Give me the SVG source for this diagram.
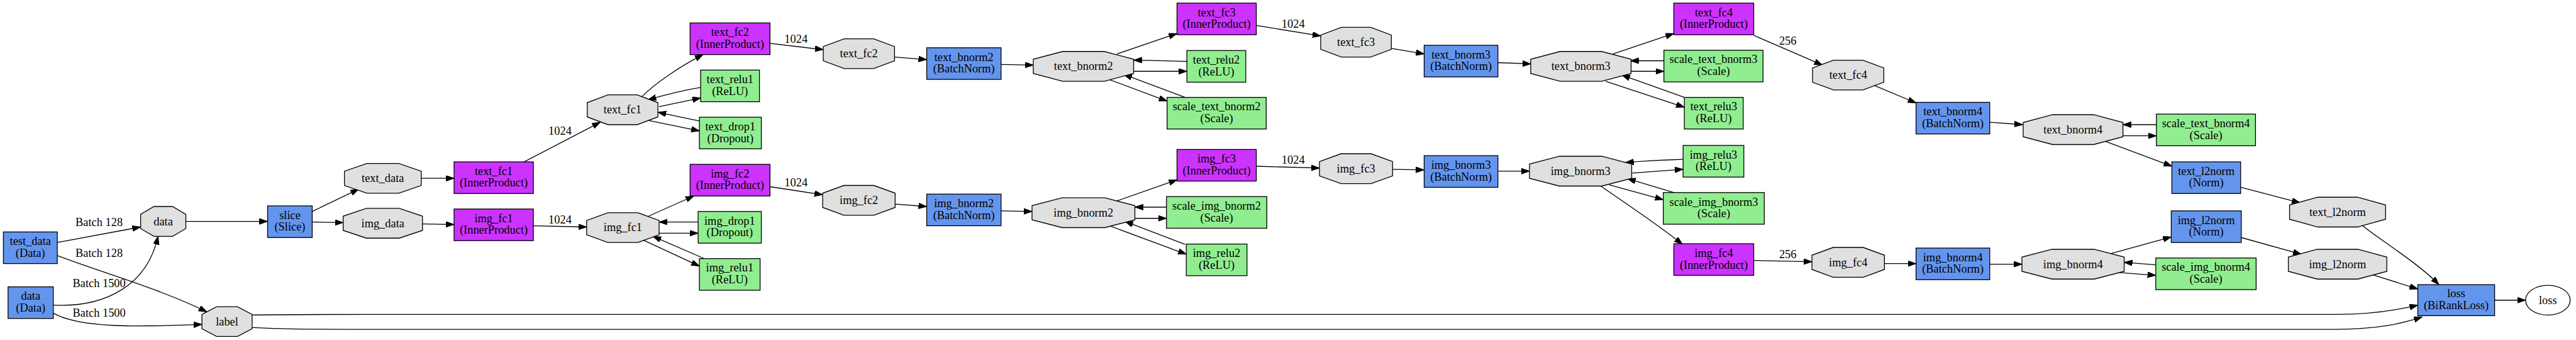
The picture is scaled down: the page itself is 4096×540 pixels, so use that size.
<svg xmlns="http://www.w3.org/2000/svg" width="4096" height="540" viewBox="0 0 4096 540">
<defs>
<style>
.n{stroke:#000;stroke-width:1.33}
.blue{fill:#6495ED}.pur{fill:#CC33FF}.grn{fill:#90EE90}.blob{fill:#E0E0E0}
text{font-family:"Liberation Serif","Times New Roman",serif;font-size:18.67px;text-anchor:middle;fill:#000}
.e{fill:none;stroke:#000;stroke-width:1.33;marker-end:url(#arr)}
</style>
<marker id="arr" markerUnits="userSpaceOnUse" markerWidth="14" markerHeight="10" refX="13.3" refY="4.67" orient="auto">
<path d="M0,0 L13.3,4.67 L0,9.33 z" fill="#000" stroke="#000" stroke-width="1"/>
</marker>
</defs>
<rect width="4096" height="540" fill="#fff"/>
<g transform="scale(0.985)">
<g id="edges">
<path class="e" d="M92.5,391 L227,366"/>
<path class="e" d="M92.5,412 C160,438 260,466 334,503"/>
<path class="e" d="M86,492 C170,496 238,460 255,381"/>
<path class="e" d="M86,505 C130,530 230,527 326,523"/>
<path class="e" d="M300,357 L432,357"/>
<path class="e" d="M504,341 L579,305"/>
<path class="e" d="M504,358 L554,359"/>
<path class="e" d="M680,287.5 L733,287.5"/>
<path class="e" d="M682,361 L733,362"/>
<path class="e" d="M846,261 L969,197"/>
<path class="e" d="M861,364 L947,366"/>
<path class="e" d="M1036,156 C1060,132 1100,106 1135,88"/>
<path class="e" d="M1131,141 C1100,146 1070,154 1046,161"/>
<path class="e" d="M1064,172 L1131,158"/>
<path class="e" d="M1129,195 L1062,181"/>
<path class="e" d="M1046,194 L1129,211"/>
<path class="e" d="M1046,349 L1120,316"/>
<path class="e" d="M1127,358 L1064,358"/>
<path class="e" d="M1064,376 L1127,376"/>
<path class="e" d="M1137,417 L1054,381"/>
<path class="e" d="M1038,387 L1129,429"/>
<path class="e" d="M1243,70 L1329,80"/>
<path class="e" d="M1243,301 L1328,314"/>
<path class="e" d="M1444,92 L1496,96"/>
<path class="e" d="M1445,329 L1496,333"/>
<path class="e" d="M1616,104 L1668,105"/>
<path class="e" d="M1616,340 L1666,341"/>
<path class="e" d="M1803,87 L1900,54"/>
<path class="e" d="M1916,99 C1880,98 1855,97 1830,97"/>
<path class="e" d="M1830,115 L1916,115"/>
<path class="e" d="M1913,157 L1814,120"/>
<path class="e" d="M1790,128 L1884,163"/>
<path class="e" d="M1803,324 L1900,290"/>
<path class="e" d="M1883,334 L1832,334"/>
<path class="e" d="M1832,352 L1883,352"/>
<path class="e" d="M1913,394 L1816,357"/>
<path class="e" d="M1791,364 L1915,410"/>
<path class="e" d="M2028,41 L2132,58"/>
<path class="e" d="M2028,268 L2130,271"/>
<path class="e" d="M2246,78 L2299,87"/>
<path class="e" d="M2248,273 L2299,274"/>
<path class="e" d="M2418,101 L2471,103"/>
<path class="e" d="M2418,276 L2469,276"/>
<path class="e" d="M2604,87 L2702,54"/>
<path class="e" d="M2686,98 L2632,98"/>
<path class="e" d="M2632,115 L2686,115"/>
<path class="e" d="M2719,157 L2618,121"/>
<path class="e" d="M2592,131 L2719,173"/>
<path class="e" d="M2717,257 C2680,258 2650,260 2624,262"/>
<path class="e" d="M2635,279 L2717,273"/>
<path class="e" d="M2704,311 L2627,288"/>
<path class="e" d="M2598,298 L2685,322"/>
<path class="e" d="M2584,300 C2620,325 2680,365 2716,394"/>
<path class="e" d="M2831,57 L2942,105"/>
<path class="e" d="M2831,420 L2925,422"/>
<path class="e" d="M3026,138 L3093,166"/>
<path class="e" d="M3042,425 L3093,425"/>
<path class="e" d="M3212,197 L3265,201"/>
<path class="e" d="M3212,426 L3264,426"/>
<path class="e" d="M3481,201 L3427,201"/>
<path class="e" d="M3427,219 L3481,219"/>
<path class="e" d="M3399,228 L3506,268"/>
<path class="e" d="M3617,302 L3713,327"/>
<path class="e" d="M3407,409 L3505,382"/>
<path class="e" d="M3480,427 L3429,423"/>
<path class="e" d="M3414,439 L3480,444"/>
<path class="e" d="M3618,383 L3715,410"/>
<path class="e" d="M3814,364 C3835,382 3905,425 3937,459"/>
<path class="e" d="M3830,443 L3903,466"/>
<path class="e" d="M407,508 C450,507 500,507 600,507 L3770,507 C3830,507 3870,500 3903,492"/>
<path class="e" d="M407,528 C440,530 480,531 560,531 L3770,531 C3840,531 3880,521 3910,511"/>
<path class="e" d="M4027,484 L4077,484"/>
<text x="160" y="364">Batch 128</text>
<text x="160" y="414">Batch 128</text>
<text x="160" y="463">Batch 1500</text>
<text x="160" y="511">Batch 1500</text>
<text x="904" y="217">1024</text>
<text x="904" y="360">1024</text>
<text x="1285" y="69">1024</text>
<text x="1285" y="300">1024</text>
<text x="2087.5" y="45">1024</text>
<text x="2087.5" y="264">1024</text>
<text x="2886" y="72">256</text>
<text x="2886" y="416">256</text>
</g>
<g id="test_data_layer"><rect class="n blue" x="5.5" y="374" width="87" height="51"/><text x="49" y="395">test_data</text><text x="49" y="414">(Data)</text></g>
<g id="data_layer"><rect class="n blue" x="13" y="462.5" width="73" height="51"/><text x="49.5" y="483.5">data</text><text x="49.5" y="502.5">(Data)</text></g>
<g id="slice"><rect class="n blue" x="432" y="332" width="72" height="51"/><text x="468" y="353">slice</text><text x="468" y="372">(Slice)</text></g>
<g id="text_fc1"><rect class="n pur" x="733" y="261" width="128" height="51"/><text x="797" y="282">text_fc1</text><text x="797" y="301">(InnerProduct)</text></g>
<g id="img_fc1"><rect class="n pur" x="733" y="337" width="128" height="51"/><text x="797" y="358">img_fc1</text><text x="797" y="377">(InnerProduct)</text></g>
<g id="text_fc2"><rect class="n pur" x="1114" y="37" width="129" height="51"/><text x="1178.5" y="58">text_fc2</text><text x="1178.5" y="77">(InnerProduct)</text></g>
<g id="text_relu1"><rect class="n grn" x="1131" y="113" width="95" height="51"/><text x="1178.5" y="134">text_relu1</text><text x="1178.5" y="153">(ReLU)</text></g>
<g id="text_drop1"><rect class="n grn" x="1129" y="189" width="100" height="51"/><text x="1179" y="210">text_drop1</text><text x="1179" y="229">(Dropout)</text></g>
<g id="img_fc2"><rect class="n pur" x="1114" y="265" width="129" height="51"/><text x="1178.5" y="286">img_fc2</text><text x="1178.5" y="305">(InnerProduct)</text></g>
<g id="img_drop1"><rect class="n grn" x="1127" y="341" width="102" height="51"/><text x="1178" y="362">img_drop1</text><text x="1178" y="381">(Dropout)</text></g>
<g id="img_relu1"><rect class="n grn" x="1129" y="417" width="98" height="51"/><text x="1178" y="438">img_relu1</text><text x="1178" y="457">(ReLU)</text></g>
<g id="text_bnorm2"><rect class="n blue" x="1496" y="77" width="120" height="51"/><text x="1556" y="98">text_bnorm2</text><text x="1556" y="117">(BatchNorm)</text></g>
<g id="img_bnorm2"><rect class="n blue" x="1496" y="313" width="120" height="51"/><text x="1556" y="334">img_bnorm2</text><text x="1556" y="353">(BatchNorm)</text></g>
<g id="text_fc3"><rect class="n pur" x="1900" y="5" width="128" height="51"/><text x="1964" y="26">text_fc3</text><text x="1964" y="45">(InnerProduct)</text></g>
<g id="text_relu2"><rect class="n grn" x="1916" y="81.5" width="95" height="51"/><text x="1963.5" y="102.5">text_relu2</text><text x="1963.5" y="121.5">(ReLU)</text></g>
<g id="scale_text_bnorm2"><rect class="n grn" x="1884" y="157" width="160" height="51"/><text x="1964" y="178">scale_text_bnorm2</text><text x="1964" y="197">(Scale)</text></g>
<g id="img_fc3"><rect class="n pur" x="1900" y="241" width="128" height="51"/><text x="1964" y="262">img_fc3</text><text x="1964" y="281">(InnerProduct)</text></g>
<g id="scale_img_bnorm2"><rect class="n grn" x="1883" y="317" width="162" height="51"/><text x="1964" y="338">scale_img_bnorm2</text><text x="1964" y="357">(Scale)</text></g>
<g id="img_relu2"><rect class="n grn" x="1915" y="393.5" width="98" height="51"/><text x="1964" y="414.5">img_relu2</text><text x="1964" y="433.5">(ReLU)</text></g>
<g id="text_bnorm3"><rect class="n blue" x="2299" y="73" width="119" height="51"/><text x="2358.5" y="94">text_bnorm3</text><text x="2358.5" y="113">(BatchNorm)</text></g>
<g id="img_bnorm3"><rect class="n blue" x="2299" y="251" width="119" height="51"/><text x="2358.5" y="272">img_bnorm3</text><text x="2358.5" y="291">(BatchNorm)</text></g>
<g id="text_fc4"><rect class="n pur" x="2702" y="5" width="129" height="51"/><text x="2766.5" y="26">text_fc4</text><text x="2766.5" y="45">(InnerProduct)</text></g>
<g id="scale_text_bnorm3"><rect class="n grn" x="2686" y="81" width="160" height="51"/><text x="2766" y="102">scale_text_bnorm3</text><text x="2766" y="121">(Scale)</text></g>
<g id="text_relu3"><rect class="n grn" x="2719" y="157" width="95" height="51"/><text x="2766.5" y="178">text_relu3</text><text x="2766.5" y="197">(ReLU)</text></g>
<g id="img_relu3"><rect class="n grn" x="2717" y="234.5" width="98" height="51"/><text x="2766" y="255.5">img_relu3</text><text x="2766" y="274.5">(ReLU)</text></g>
<g id="scale_img_bnorm3"><rect class="n grn" x="2685" y="310.5" width="163" height="51"/><text x="2766.5" y="331.5">scale_img_bnorm3</text><text x="2766.5" y="350.5">(Scale)</text></g>
<g id="img_fc4"><rect class="n pur" x="2702" y="393" width="129" height="51"/><text x="2766.5" y="414">img_fc4</text><text x="2766.5" y="433">(InnerProduct)</text></g>
<g id="text_bnorm4"><rect class="n blue" x="3093" y="165" width="119" height="51"/><text x="3152.5" y="186">text_bnorm4</text><text x="3152.5" y="205">(BatchNorm)</text></g>
<g id="img_bnorm4"><rect class="n blue" x="3093" y="400" width="119" height="51"/><text x="3152.5" y="421">img_bnorm4</text><text x="3152.5" y="440">(BatchNorm)</text></g>
<g id="scale_text_bnorm4"><rect class="n grn" x="3481" y="184" width="160" height="51"/><text x="3561" y="205">scale_text_bnorm4</text><text x="3561" y="224">(Scale)</text></g>
<g id="text_l2norm"><rect class="n blue" x="3506" y="261" width="111" height="51"/><text x="3561.5" y="282">text_l2norm</text><text x="3561.5" y="301">(Norm)</text></g>
<g id="img_l2norm"><rect class="n blue" x="3505" y="340" width="113" height="51"/><text x="3561.5" y="361">img_l2norm</text><text x="3561.5" y="380">(Norm)</text></g>
<g id="scale_img_bnorm4"><rect class="n grn" x="3480" y="416" width="162" height="51"/><text x="3561" y="437">scale_img_bnorm4</text><text x="3561" y="456">(Scale)</text></g>
<g id="loss_layer"><rect class="n blue" x="3903" y="459" width="124" height="50"/><text x="3965" y="479">loss</text><text x="3965" y="498">(BiRankLoss)</text></g>
<g id="blob_data"><polygon class="n blob" points="248.4,333 278.6,333 300,345.5 300,368.5 278.6,381 248.4,381 227,368.5 227,345.5"/><text x="263.5" y="363">data</text></g>
<g id="blob_text_data"><polygon class="n blob" points="592.3,263.5 643.7,263.5 680,276 680,299 643.7,311.5 592.3,311.5 556,299 556,276"/><text x="618" y="293.5">text_data</text></g>
<g id="blob_img_data"><polygon class="n blob" points="591.5,336 644.5,336 682,348.5 682,371.5 644.5,384 591.5,384 554,371.5 554,348.5"/><text x="618" y="366">img_data</text></g>
<g id="blob_label"><polygon class="n blob" points="349.7,494.5 383.3,494.5 407,507 407,530 383.3,542.5 349.7,542.5 326,530 326,507"/><text x="366.5" y="524.5">label</text></g>
<g id="blob_text_fc1"><polygon class="n blob" points="981.4,153 1028.6,153 1062,165.5 1062,188.5 1028.6,201 981.4,201 948,188.5 948,165.5"/><text x="1005" y="183">text_fc1</text></g>
<g id="blob_img_fc1"><polygon class="n blob" points="981.3,343 1029.7,343 1064,355.5 1064,378.5 1029.7,391 981.3,391 947,378.5 947,355.5"/><text x="1005.5" y="373">img_fc1</text></g>
<g id="blob_text_fc2"><polygon class="n blob" points="1362.7,62.5 1410.3,62.5 1444,75 1444,98 1410.3,110.5 1362.7,110.5 1329,98 1329,75"/><text x="1386.5" y="92.5">text_fc2</text></g>
<g id="blob_img_fc2"><polygon class="n blob" points="1362.3,299 1410.7,299 1445,311.5 1445,334.5 1410.7,347 1362.3,347 1328,334.5 1328,311.5"/><text x="1386.5" y="329">img_fc2</text></g>
<g id="blob_text_bnorm2"><polygon class="n blob" points="1715.5,83 1782.5,83 1830,95.5 1830,118.5 1782.5,131 1715.5,131 1668,118.5 1668,95.5"/><text x="1749" y="113">text_bnorm2</text></g>
<g id="blob_img_bnorm2"><polygon class="n blob" points="1714.6,319 1783.4,319 1832,331.5 1832,354.5 1783.4,367 1714.6,367 1666,354.5 1666,331.5"/><text x="1749" y="349">img_bnorm2</text></g>
<g id="blob_text_fc3"><polygon class="n blob" points="2165.4,44 2212.6,44 2246,56.5 2246,79.5 2212.6,92 2165.4,92 2132,79.5 2132,56.5"/><text x="2189" y="74">text_fc3</text></g>
<g id="blob_img_fc3"><polygon class="n blob" points="2164.6,248 2213.4,248 2248,260.5 2248,283.5 2213.4,296 2164.6,296 2130,283.5 2130,260.5"/><text x="2189" y="278">img_fc3</text></g>
<g id="blob_text_bnorm3"><polygon class="n blob" points="2518.5,83 2585.5,83 2633,95.5 2633,118.5 2585.5,131 2518.5,131 2471,118.5 2471,95.5"/><text x="2552" y="113">text_bnorm3</text></g>
<g id="blob_img_bnorm3"><polygon class="n blob" points="2517.3,252 2585.7,252 2634,264.5 2634,287.5 2585.7,300 2517.3,300 2469,287.5 2469,264.5"/><text x="2551.5" y="282">img_bnorm3</text></g>
<g id="blob_text_fc4"><polygon class="n blob" points="2959.7,97 3007.3,97 3041,109.5 3041,132.5 3007.3,145 2959.7,145 2926,132.5 2926,109.5"/><text x="2983.5" y="127">text_fc4</text></g>
<g id="blob_img_fc4"><polygon class="n blob" points="2959.3,399 3007.7,399 3042,411.5 3042,434.5 3007.7,447 2959.3,447 2925,434.5 2925,411.5"/><text x="2983.5" y="429">img_fc4</text></g>
<g id="blob_text_bnorm4"><polygon class="n blob" points="3313.2,185 3379.8,185 3427,197.5 3427,220.5 3379.8,233 3313.2,233 3266,220.5 3266,197.5"/><text x="3346.5" y="215">text_bnorm4</text></g>
<g id="blob_img_bnorm4"><polygon class="n blob" points="3312.3,402 3380.7,402 3429,414.5 3429,437.5 3380.7,450 3312.3,450 3264,437.5 3264,414.5"/><text x="3346.5" y="432">img_bnorm4</text></g>
<g id="blob_text_l2norm"><polygon class="n blob" points="3741.4,318 3805.6,318 3851,330.5 3851,353.5 3805.6,366 3741.4,366 3696,353.5 3696,330.5"/><text x="3773.5" y="348">text_l2norm</text></g>
<g id="blob_img_l2norm"><polygon class="n blob" points="3740.6,402 3806.4,402 3853,414.5 3853,437.5 3806.4,450 3740.6,450 3694,437.5 3694,414.5"/><text x="3773.5" y="432">img_l2norm</text></g>
<g id="blob_loss"><ellipse class="n" fill="#fff" cx="4113" cy="484" rx="36" ry="24"/><text x="4113" y="490">loss</text></g>
</g>
</svg>
